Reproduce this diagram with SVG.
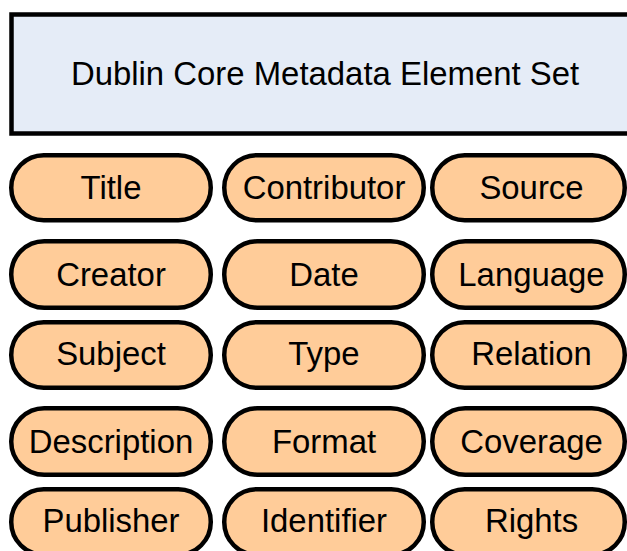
<svg xmlns="http://www.w3.org/2000/svg" width="627" height="551" viewBox="0 0 627 551">
<style>
.hdr{fill:#E5ECF7;stroke:#000;stroke-width:4.5}
.pill{fill:#FFCC99;stroke:#000;stroke-width:4.5}
text{font-family:"Liberation Sans",Arial,sans-serif;font-size:32.9px;fill:#000;text-anchor:middle}
</style>
<rect width="627" height="551" fill="#fff"/>
<g id="header"><rect class="hdr" x="11.5" y="14.5" width="630" height="119"/><text x="325" y="84.5">Dublin Core Metadata Element Set</text></g>
<g id="connectors"></g>
<g id="title"><rect class="pill" x="11.25" y="155.25" width="199.5" height="65" rx="32.5"/><text x="111" y="198.5">Title</text></g>
<g id="contributor"><rect class="pill" x="224.25" y="155.25" width="199.5" height="65" rx="32.5"/><text x="324" y="198.5">Contributor</text></g>
<g id="source"><rect class="pill" x="432.25" y="155.25" width="192.5" height="65" rx="32.5"/><text x="531.5" y="198.5">Source</text></g>
<g id="creator"><rect class="pill" x="11.25" y="241.25" width="199.5" height="66.5" rx="33"/><text x="111" y="286">Creator</text></g>
<g id="date"><rect class="pill" x="224.25" y="241.25" width="199.5" height="66.5" rx="33"/><text x="324" y="286">Date</text></g>
<g id="language"><rect class="pill" x="432.25" y="241.25" width="192.5" height="66.5" rx="33"/><text x="531.5" y="286">Language</text></g>
<g id="subject"><rect class="pill" x="11.25" y="322.25" width="199.5" height="65.5" rx="32.5"/><text x="111" y="365">Subject</text></g>
<g id="type"><rect class="pill" x="224.25" y="322.25" width="199.5" height="65.5" rx="32.5"/><text x="324" y="365">Type</text></g>
<g id="relation"><rect class="pill" x="432.25" y="322.25" width="192.5" height="65.5" rx="32.5"/><text x="531.5" y="365">Relation</text></g>
<g id="description"><rect class="pill" x="11.25" y="408.25" width="199.5" height="66.5" rx="33"/><text x="111" y="452.5">Description</text></g>
<g id="format"><rect class="pill" x="224.25" y="408.25" width="199.5" height="66.5" rx="33"/><text x="324" y="452.5">Format</text></g>
<g id="coverage"><rect class="pill" x="432.25" y="408.25" width="192.5" height="66.5" rx="33"/><text x="531.5" y="452.5">Coverage</text></g>
<g id="publisher"><rect class="pill" x="11.25" y="489.25" width="199.5" height="65.5" rx="32.5"/><text x="111" y="532">Publisher</text></g>
<g id="identifier"><rect class="pill" x="224.25" y="489.25" width="199.5" height="65.5" rx="32.5"/><text x="324" y="532">Identifier</text></g>
<g id="rights"><rect class="pill" x="432.25" y="489.25" width="192.5" height="65.5" rx="32.5"/><text x="531.5" y="532">Rights</text></g>
</svg>
